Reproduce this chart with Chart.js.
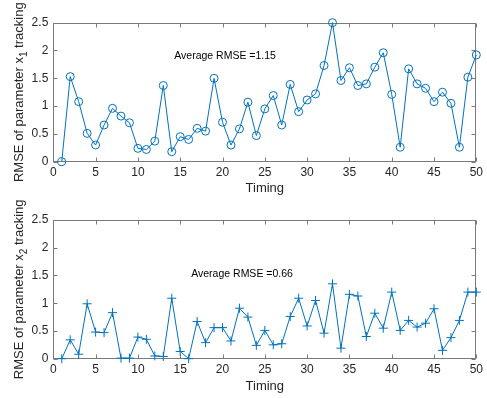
<!DOCTYPE html>
<html><head><meta charset="utf-8">
<script src="https://cdn.jsdelivr.net/npm/chart.js@4"></script>
<style>
html,body{margin:0;padding:0;background:#fff;}
#wrap{position:relative;width:487px;height:398px;}
.box{position:absolute;left:0;width:487px;height:199px;}
</style></head><body>
<div id="wrap">
<div class="box" style="top:0"><canvas id="c1" width="487" height="199"></canvas></div>
<div class="box" style="top:199px"><canvas id="c2" width="487" height="199"></canvas></div>
</div>
<script>
// ---- data ----
const timing = [1,2,3,4,5,6,7,8,9,10,11,12,13,14,15,16,17,18,19,20,21,22,23,24,25,26,27,28,29,30,31,32,33,34,35,36,37,38,39,40,41,42,43,44,45,46,47,48,49,50];
const rmseX1 = [0.00,1.53,1.08,0.51,0.30,0.66,0.96,0.82,0.70,0.24,0.22,0.37,1.37,0.18,0.45,0.40,0.60,0.55,1.50,0.71,
                0.30,0.59,1.07,0.47,0.95,1.19,0.66,1.39,0.90,1.11,1.22,1.73,2.50,1.46,1.69,1.37,1.40,1.70,1.96,1.21,
                0.26,1.67,1.40,1.32,1.08,1.25,1.05,0.26,1.52,1.92];
const rmseX2 = [0.00,0.34,0.08,0.99,0.48,0.47,0.83,0.01,0.01,0.39,0.35,0.05,0.04,1.09,0.13,0.00,0.67,0.29,0.56,0.56,
                0.32,0.91,0.75,0.24,0.51,0.25,0.27,0.76,1.09,0.59,1.05,0.46,1.35,0.19,1.16,1.13,0.40,0.82,0.55,1.20,
                0.51,0.69,0.57,0.64,0.90,0.15,0.38,0.69,1.20,1.20];
const xTickValues = [0,5,10,15,20,25,30,35,40,45,50];
const xTickLabels = ['0','5','10','15','20','25','30','35','40','45','50'];
const yTickValues = [0,0.5,1,1.5,2,2.5];
const yTickLabels = ['0','0.5','1','1.5','2','2.5'];
const xTitle = 'Timing';
const yTitle1 = ['RMSE of parameter x','1',' tracking'];
const yTitle2 = ['RMSE of parameter x','2',' tracking'];
const note1 = 'Average RMSE =1.15';
const note2 = 'Average RMSE =0.66';

const FONT = '"Liberation Sans", Arial, Helvetica, sans-serif';
const TXT = '#262626';
const BLUE = '#0072BD';

const frame = {
  id: 'frame',
  beforeDatasetsDraw(chart, args, o) {
    const {ctx, chartArea: a, scales: {x, y}} = chart;
    ctx.save();
    ctx.strokeStyle = '#7a7a7a';
    ctx.lineWidth = 1;
    const L = Math.round(a.left) + 0.5, R = Math.round(a.right) - 0.5;
    const T = Math.round(a.top) + 0.5, B = Math.round(a.bottom) - 0.5;
    ctx.strokeRect(L, T, R - L, B - T);
    ctx.beginPath();
    x.ticks.forEach(t => {
      const px = Math.round(x.getPixelForValue(t.value)) + 0.5;
      ctx.moveTo(px, B); ctx.lineTo(px, B - 4);
      ctx.moveTo(px, T); ctx.lineTo(px, T + 4);
    });
    y.ticks.forEach(t => {
      const py = Math.round(y.getPixelForValue(t.value)) + 0.5;
      ctx.moveTo(L, py); ctx.lineTo(L + 4, py);
      ctx.moveTo(R, py); ctx.lineTo(R - 4, py);
    });
    ctx.stroke();
    ctx.restore();
  },
  afterDraw(chart, args, o) {
    const {ctx, chartArea: a, scales: {x, y}} = chart;
    ctx.save();
    ctx.fillStyle = TXT;
    // y title with subscript
    const [p1, sub, p2] = o.yTitle;
    const mainF = '13px ' + FONT, subF = '10px ' + FONT;
    ctx.font = mainF; const w1 = ctx.measureText(p1).width, w3 = ctx.measureText(p2).width;
    ctx.font = subF; const w2 = ctx.measureText(sub).width;
    const total = w1 + w2 + w3;
    const cy = (a.top + a.bottom) / 2;
    ctx.translate(o.yTitleX, cy);
    ctx.rotate(-Math.PI / 2);
    ctx.textBaseline = 'alphabetic';
    ctx.textAlign = 'left';
    let sx = -total / 2;
    ctx.font = mainF; ctx.fillText(p1, sx, 0); sx += w1;
    ctx.font = subF; ctx.fillText(sub, sx, 3.5); sx += w2;
    ctx.font = mainF; ctx.fillText(p2, sx, 0);
    ctx.setTransform(1, 0, 0, 1, 0, 0);
    // note
    ctx.font = '10.5px ' + FONT;
    ctx.textAlign = 'left';
    ctx.textBaseline = 'middle';
    ctx.fillStyle = '#000';
    ctx.fillText(o.note, x.getPixelForValue(o.noteX), y.getPixelForValue(o.noteY));
    ctx.restore();
  }
};

function makeChart(id, data, pointStyle, radius, padTop, xHeight, titlePadBottom, yTitle, note, noteX, noteY) {
  return new Chart(document.getElementById(id), {
    type: 'line',
    data: {
      labels: timing,
      datasets: [{
        data: timing.map((t, i) => ({x: t, y: data[i]})),
        borderColor: BLUE,
        backgroundColor: 'rgba(0,0,0,0)',
        borderWidth: 1,
        pointStyle: pointStyle,
        pointRadius: radius,
        pointBorderColor: BLUE,
        pointBackgroundColor: 'rgba(0,0,0,0)',
        pointBorderWidth: 1,
        tension: 0,
        clip: false
      }]
    },
    options: {
      responsive: false,
      animation: false,
      events: [],
      layout: {padding: {top: padTop, right: 8.3, left: 0, bottom: 0}},
      plugins: {
        legend: {display: false},
        tooltip: {enabled: false},
        frame: {yTitle, yTitleX: 23, note, noteX, noteY}
      },
      scales: {
        x: {
          type: 'linear', min: 0, max: 50,
          grid: {display: false, drawTicks: false},
          border: {display: false},
          afterBuildTicks: s => { s.ticks = xTickValues.map(v => ({value: v})); },
          ticks: {
            color: TXT, font: {family: FONT, size: 12}, padding: 4, maxRotation: 0,
            callback: (v, i) => xTickLabels[i]
          },
          title: {display: true, text: xTitle, color: TXT, font: {family: FONT, size: 13}, padding: {top: 0, bottom: titlePadBottom}},
          afterFit: s => { s.height = xHeight; }
        },
        y: {
          type: 'linear', min: 0, max: 2.5,
          grid: {display: false, drawTicks: false},
          border: {display: false},
          afterBuildTicks: s => { s.ticks = yTickValues.map(v => ({value: v})); },
          ticks: {
            color: TXT, font: {family: FONT, size: 12}, padding: 5,
            callback: (v, i) => yTickLabels[i]
          },
          afterFit: s => { s.width = 53.3; }
        }
      }
    },
    plugins: [frame]
  });
}

makeChart('c1', rmseX1, 'circle', 4, 22.7, 37.3, 3.2, yTitle1, note1, 14.3, 1.906);
makeChart('c2', rmseX2, 'cross', 4.5, 21, 39.3, 4.2, yTitle2, note2, 16.3, 1.526);
</script>
</body></html>
